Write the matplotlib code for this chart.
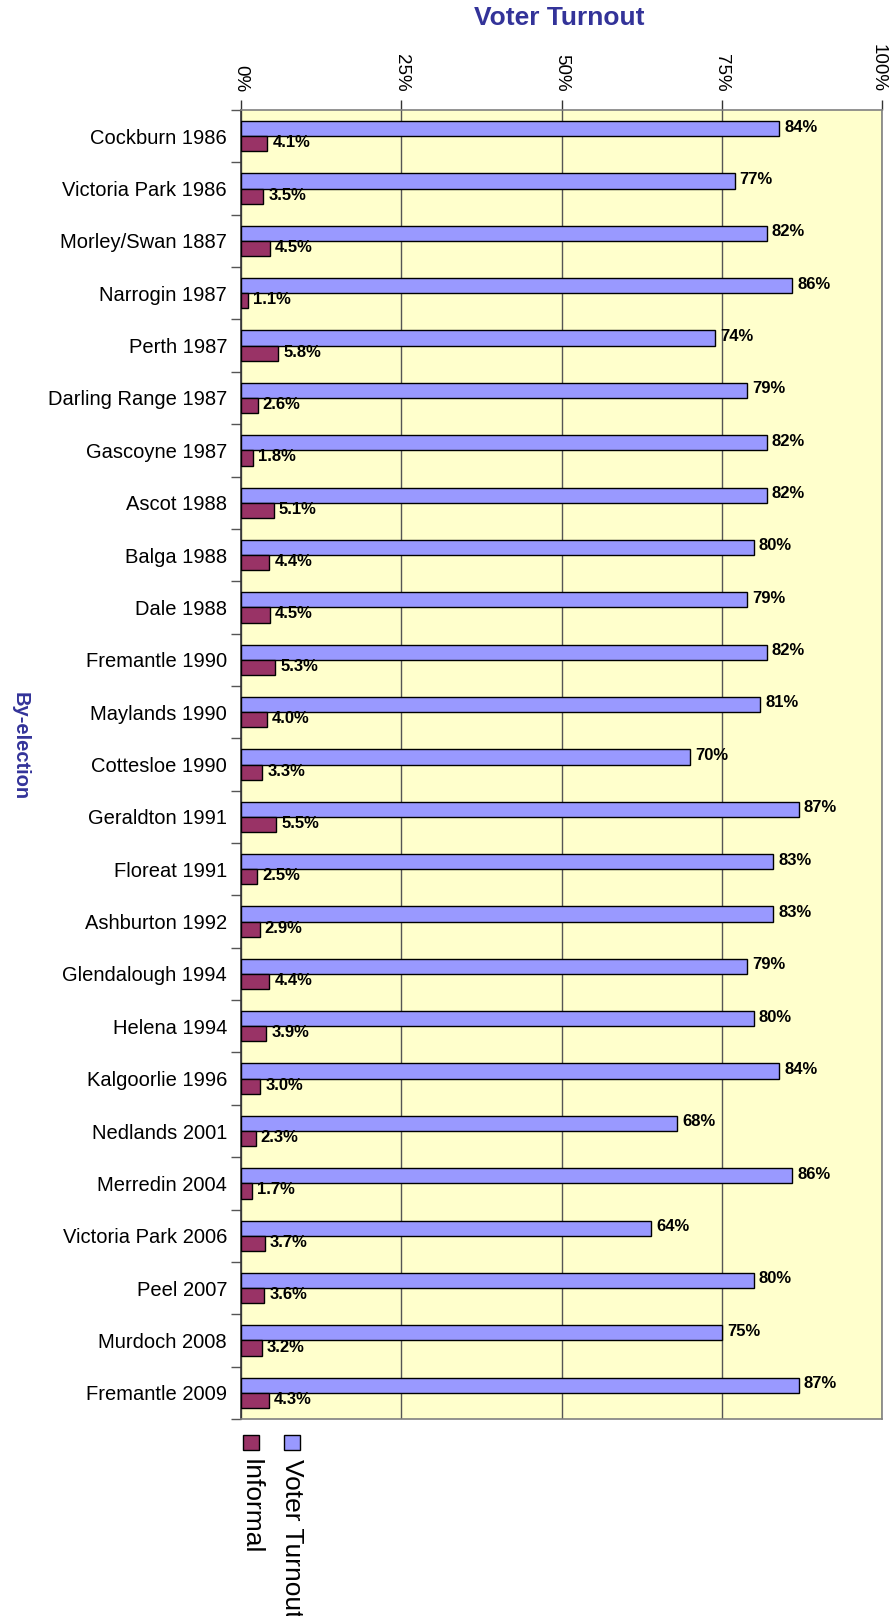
import numpy as np
import matplotlib
matplotlib.use("Agg")
from matplotlib import pyplot as plt
from matplotlib import transforms
from matplotlib.patches import Rectangle

plt.rcParams['font.family'] = ['Liberation Sans', 'DejaVu Sans']

elections = ["Cockburn 1986", "Victoria Park 1986", "Morley/Swan 1887", "Narrogin 1987",
             "Perth 1987", "Darling Range 1987", "Gascoyne 1987", "Ascot 1988", "Balga 1988",
             "Dale 1988", "Fremantle 1990", "Maylands 1990", "Cottesloe 1990", "Geraldton 1991",
             "Floreat 1991", "Ashburton 1992", "Glendalough 1994", "Helena 1994",
             "Kalgoorlie 1996", "Nedlands 2001", "Merredin 2004", "Victoria Park 2006",
             "Peel 2007", "Murdoch 2008", "Fremantle 2009"]
turnout = [84, 77, 82, 86, 74, 79, 82, 82, 80, 79, 82, 81, 70, 87, 83, 83, 79, 80, 84,
           68, 86, 64, 80, 75, 87]
informal = [4.1, 3.5, 4.5, 1.1, 5.8, 2.6, 1.8, 5.1, 4.4, 4.5, 5.3, 4.0, 3.3, 5.5, 2.5,
            2.9, 4.4, 3.9, 3.0, 2.3, 1.7, 3.7, 3.6, 3.2, 4.3]
xticks = [0, 25, 50, 75, 100]

c_turn = "#9999FF"
c_inf = "#993366"
c_title = "#333399"

W, H = 891, 1616
fig = plt.figure(figsize=(W / 100, H / 100), dpi=100)
ax = fig.add_axes([241 / W, 1 - 1419 / H, (882 - 241) / W, (1419 - 110) / H])
ax.set_facecolor("#FFFFCC")

y = np.arange(len(elections))
h = 0.29
ax.barh(y - h / 2, turnout, height=h, color=c_turn, edgecolor="black", linewidth=1, zorder=3)
ax.barh(y + h / 2, informal, height=h, color=c_inf, edgecolor="black", linewidth=1, zorder=3)

for i in range(len(elections)):
    ax.text(turnout[i] + 0.8, y[i] - h / 2 - 0.03, "{}%".format(turnout[i]),
            fontsize=12, fontweight="bold", va="center", ha="left", zorder=4)
    ax.text(informal[i] + 0.8, y[i] + h / 2 - 0.02, "{:.1f}%".format(informal[i]),
            fontsize=12, fontweight="bold", va="center", ha="left", zorder=4)

ax.set_xlim(0, 100)
ax.set_ylim(len(elections) - 0.5, -0.5)
ax.xaxis.tick_top()
ax.set_xticks(xticks)
ax.set_xticklabels(["{}%".format(t) for t in xticks], rotation=-90, fontsize=13.5)
ax.tick_params(axis="x", direction="out", length=7, pad=6, width=1, color="#333333")
ax.grid(axis="x", color="#555555", linewidth=1, zorder=1)
# nudge the last label so it stays inside the figure
last = ax.get_xticklabels()[-1]
last.set_transform(last.get_transform() +
                   transforms.ScaledTranslation(-4 / 100, 0, fig.dpi_scale_trans))

ax.set_yticks(y)
ax.set_yticklabels(elections, fontsize=14.5)
ax.set_yticks(np.arange(len(elections) + 1) - 0.5, minor=True)
ax.tick_params(axis="y", which="major", length=0, pad=10)
ax.tick_params(axis="y", which="minor", direction="out", length=7, width=1, color="#555555")

for s in ["top", "bottom", "right"]:
    ax.spines[s].set_color("#808080")
    ax.spines[s].set_linewidth(1.2)
ax.spines["left"].set_color("#333333")
ax.spines["left"].set_linewidth(1.2)

fig.text(559 / W, 1 - 18 / H, "Voter Turnout", fontsize=19, fontweight="bold",
         color=c_title, ha="center", va="center")
fig.text(20 / W, 1 - 746 / H, "By-election", fontsize=14.5, fontweight="bold",
         color=c_title, ha="center", va="center", rotation=-90)

# legend, drawn by hand so the text can be rotated
for xc, col, lab in [(251, c_inf, "Informal"), (292, c_turn, "Voter Turnout")]:
    fig.patches.append(Rectangle(((xc - 8) / W, 1 - 1450 / H), 16 / W, 15 / H,
                                 transform=fig.transFigure, facecolor=col,
                                 edgecolor="black", linewidth=1))
    fig.text(xc / W, 1 - 1459 / H, lab, fontsize=19, rotation=-90,
             ha="center", va="top")

fig.savefig("out.png", dpi=100)
